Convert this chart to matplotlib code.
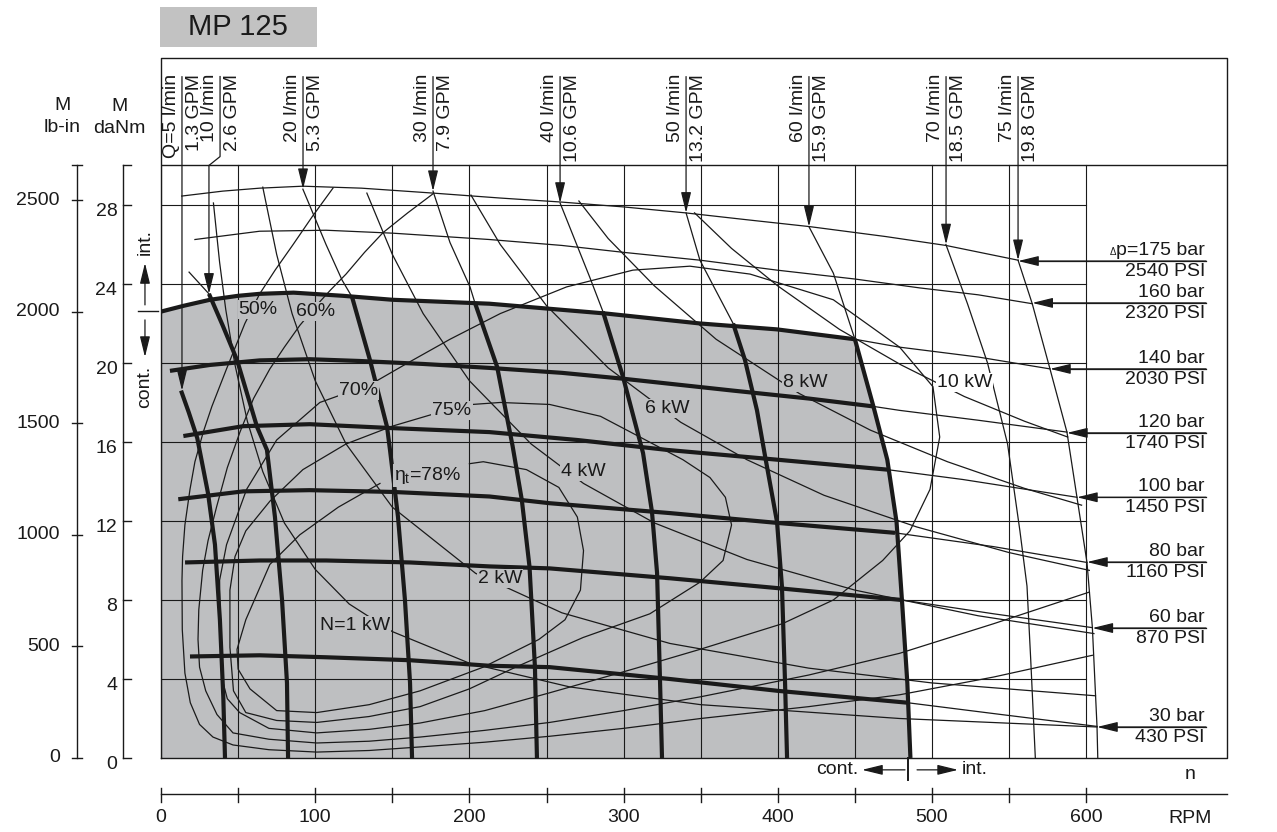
import matplotlib.pyplot as plt
from matplotlib import rcParams

rcParams['font.family'] = ['Liberation Sans', 'DejaVu Sans']
rcParams['mathtext.fontset'] = 'custom'
rcParams['mathtext.rm'] = 'Liberation Sans'
rcParams['mathtext.it'] = 'Liberation Sans'

INK = '#1a1a1a'
SHADE = '#bebfc1'

# ---- pressure lines (n in RPM, M in daNm) ----
p175_n = [13.4, 40, 64, 92, 130, 176.5, 220, 259, 300, 340, 380, 421, 470, 509, 556]
p175_M = [28.45, 28.7, 28.85, 28.95, 28.85, 28.6, 28.35, 28.15, 27.9, 27.6, 27.25, 26.9, 26.4, 25.95, 25.2]
p160_n = [22, 64, 107, 150.5, 213, 260, 300, 350, 399.5, 450, 492, 530, 565]
p160_M = [26.25, 26.67, 26.72, 26.57, 26.25, 25.95, 25.6, 25.2, 24.7, 24.25, 23.8, 23.45, 23.0]
p140_n = [0, 15, 31.8, 50, 64, 86, 118, 150, 213, 289, 349.5, 399.5, 450]
p140_M = [22.6, 22.9, 23.2, 23.4, 23.5, 23.56, 23.4, 23.2, 23.0, 22.5, 22.0, 21.7, 21.2]
p140_tail_n = [450, 479, 530, 576.5]
p140_tail_M = [21.2, 20.8, 20.3, 19.7]
p120_n = [5.8, 31.8, 64, 96.5, 129, 170, 213, 260, 300, 371, 420, 462]
p120_M = [19.6, 19.9, 20.13, 20.19, 20.1, 19.95, 19.75, 19.5, 19.2, 18.6, 18.2, 17.8]
p120_tail_n = [462, 479, 530, 587.5]
p120_tail_M = [17.8, 17.6, 17.1, 16.5]
p100_n = [14.5, 53.3, 96.5, 150.5, 213, 270, 328, 400, 471]
p100_M = [16.3, 16.8, 16.9, 16.7, 16.5, 16.1, 15.6, 15.1, 14.6]
p100_tail_n = [471, 520, 594]
p100_tail_M = [14.6, 14.1, 13.2]
p80_n = [11.2, 53.3, 96.5, 150.5, 213, 252, 330, 400, 476]
p80_M = [13.1, 13.5, 13.56, 13.47, 13.24, 12.9, 12.4, 11.9, 11.4]
p80_tail_n = [476, 540, 600.5]
p80_tail_M = [11.4, 10.7, 9.9]
p60_n = [15.6, 64, 107, 161.5, 213, 252, 330, 400, 480.5]
p60_M = [9.9, 10.0, 10.0, 9.9, 9.7, 9.6, 9.1, 8.6, 8.0]
p60_tail_n = [480.5, 540, 604]
p60_tail_M = [8.0, 7.3, 6.6]
p30_n = [18.8, 64, 107, 161.5, 213, 252, 330, 400, 484]
p30_M = [5.14, 5.2, 5.1, 4.95, 4.67, 4.6, 4.0, 3.4, 2.8]
p30_tail_n = [484, 545, 607]
p30_tail_M = [2.8, 2.2, 1.6]

# ---- flow lines ----
q5_n = [13.0, 18, 23.5, 30.5, 35, 38.2, 40.4, 41.5]
q5_M = [18.6, 17.5, 16.2, 13.4, 10.8, 7.0, 3.1, 0]
q10_thin_n = [18.2, 31.1]
q10_thin_M = [24.6, 23.5]
q10_n = [31.1, 40, 49.3, 62.3, 68.7, 73.9, 78.5, 81.7, 82.4]
q10_M = [23.5, 21.9, 20.15, 16.76, 15.6, 12.2, 8, 3.8, 0]
q20_thin_n = [92, 107, 117.4, 123.9]
q20_thin_M = [28.8, 26.0, 24.2, 23.34]
q20_n = [123.9, 135.5, 146.6, 148.5, 153.7, 158.2, 161.5, 162.8]
q20_M = [23.34, 20.15, 16.76, 15.6, 12.2, 8, 3.8, 0]
q30_thin_n = [176.4, 187.4, 200.4, 203.6]
q30_thin_M = [28.7, 26.1, 23.85, 23.04]
q30_n = [203.6, 218, 228, 234, 239, 242.5, 243.8]
q30_M = [23.04, 19.8, 15.8, 13.06, 9.67, 4.6, 0]
q40_thin_n = [258.8, 278, 286.6]
q40_thin_M = [28.1, 24.35, 22.6]
q40_n = [286.6, 299.6, 312.6, 318.4, 321.7, 323.6, 324.9]
q40_M = [22.6, 19.3, 15.44, 12.46, 9.37, 3.95, 0]
q50_thin_n = [340.5, 349.5, 369, 371]
q50_thin_M = [27.6, 25.2, 22.3, 22.0]
q50_n = [371, 378.7, 386.5, 391.7, 399.5, 402.7, 404.7, 406]
q50_M = [22.0, 20.15, 17.6, 15.3, 11.95, 8.66, 3.8, 0]
q60_thin_n = [420.2, 436, 450]
q60_thin_M = [26.9, 24.55, 21.2]
q60_n = [450, 462, 471, 477, 480.5, 484, 486]
q60_M = [21.2, 17.8, 15.1, 11.95, 8, 3.8, 0]
q70_n = [509, 523, 536, 549, 557, 561.6, 564, 567]
q70_M = [26.0, 23, 20, 15.9, 11.5, 8.7, 5, 0]
q75_n = [555.8, 565, 576.5, 587.5, 594, 600.5, 604, 607, 607.5]
q75_M = [25.2, 23.0, 19.7, 16.5, 13.2, 9.9, 6.6, 1.6, 0]

# ---- power lines ----
kw1_n = [34, 38, 42, 48, 56, 66, 80, 100, 122, 150, 200, 265, 350, 479, 607]
kw1_M = [28.1, 25.1, 22.7, 19.9, 17.05, 14.5, 11.9, 9.55, 7.8, 6.4, 4.8, 3.6, 2.7, 2.0, 1.57]
kw2_n = [66, 75, 85, 100, 120, 150, 204, 260, 330, 420, 500, 606]
kw2_M = [28.9, 25.5, 22.5, 19.1, 15.9, 12.7, 9.35, 7.35, 5.8, 4.55, 3.8, 3.15]
kw4_n = [133.5, 150, 170, 200, 240, 274, 320, 380, 450, 530, 605]
kw4_M = [28.6, 25.5, 22.5, 19.1, 15.9, 13.9, 11.9, 10.05, 8.5, 7.2, 6.3]
kw6_n = [201, 220, 250, 290, 337, 380, 430, 490, 550, 602]
kw6_M = [28.5, 26.0, 22.9, 19.75, 17.0, 15.1, 13.3, 11.7, 10.4, 9.5]
kw8_n = [271, 290, 320, 360, 414, 460, 510, 560, 597]
kw8_M = [28.2, 26.3, 23.9, 21.2, 18.45, 16.6, 15.0, 13.65, 12.8]
kw10_n = [346, 370, 400, 440, 480, 521, 560, 588]
kw10_M = [27.6, 25.8, 23.9, 21.7, 19.9, 18.3, 17.05, 16.25]

# ---- efficiency curves ----
e50_n = [111.6, 98, 85.7, 74, 64, 54.4, 42.5, 33, 27.4, 22, 18.8, 15.5, 14.0, 13.6, 13.8, 15.5, 19, 25,
         33.7, 46.7, 70, 101, 135, 168, 210, 252, 300, 350, 420, 479, 540, 604]
e50_M = [28.86, 27.4, 26.0, 24.7, 23.5, 22.0, 19.7, 17.8, 16.5, 15.0, 13.6, 11.8, 10.2, 9.0, 6.5, 4.3, 2.8, 1.7,
         1.06, 0.66, 0.42, 0.3, 0.38, 0.56, 0.8, 1.1, 1.5, 2.0, 2.6, 3.2, 4.1, 5.2]
e60_n = [176.5, 160, 144, 132, 120, 110, 103, 90, 80, 70.6, 60, 51.2, 43, 36, 30.5, 27, 24.5, 24, 25, 29,
         36.3, 46.7, 70, 101, 135, 168, 210, 252, 300, 350, 420, 479, 540, 602]
e60_M = [28.57, 27.6, 26.6, 25.6, 24.5, 23.7, 23.1, 21.9, 20.8, 19.7, 18.2, 16.5, 14.7, 12.7, 11.0, 9.5, 7.5, 6.0, 4.6, 3.4,
         2.2, 1.27, 0.95, 0.76, 0.85, 1.06, 1.4, 1.8, 2.4, 3.1, 4.2, 5.3, 6.8, 8.4]
e70_n = [128, 140, 160, 187.4, 220, 263, 306, 343, 382, 436, 479, 500.6, 505, 498.7, 485.7, 468, 436, 403,
         349.5, 306, 252, 210, 168, 135, 101, 70, 51, 43, 40, 38.5, 38, 42.5, 55.5, 75, 103, 128]
e70_M = [18.7, 19.1, 20.0, 21.2, 22.5, 23.85, 24.7, 24.9, 24.5, 23.2, 20.8, 18.8, 16.25, 13.6, 11.5, 10.0, 8.0, 6.8,
         5.5, 4.5, 3.3, 2.4, 1.77, 1.45, 1.27, 1.5, 2.3, 3.0, 3.9, 6.0, 9.0, 10.8, 13.6, 16.1, 18.0, 18.7]
e75_n = [188.7, 202, 220, 252, 285, 310.6, 338.5, 356, 366, 370, 364.5, 349.5, 317, 273.7, 230, 200, 168, 135,
         101, 75, 55, 47, 44.7, 44.7, 48, 55, 70.6, 92, 120, 150, 176, 188.7]
e75_M = [17.6, 17.9, 18.0, 17.9, 17.3, 16.25, 15.1, 14.2, 13.2, 11.8, 10.0, 8.9, 7.3, 6.1, 4.6, 3.5, 2.6, 2.1,
         1.8, 1.9, 2.3, 3.4, 5.6, 8.5, 10.2, 11.5, 13.0, 14.6, 15.9, 16.8, 17.4, 17.6]
e78_n = [200, 209, 237, 258, 270, 274, 272, 262, 245, 209, 168, 135, 101, 75, 57.7, 50, 49.3, 55, 70.6, 90, 115, 142]
e78_M = [14.9, 15.0, 14.6, 13.7, 12.2, 10.5, 8.5, 7.0, 6.0, 4.6, 3.4, 2.7, 2.3, 2.4, 3.5, 4.5, 5.5, 7.0, 9.8, 11.3, 12.7, 13.9]

# ---- labels ----
flow_lpm = ['Q=5 l/min', '10 l/min', '20 l/min', '30 l/min', '40 l/min', '50 l/min', '60 l/min', '70 l/min', '75 l/min']
flow_gpm = ['1.3 GPM', '2.6 GPM', '5.3 GPM', '7.9 GPM', '10.6 GPM', '13.2 GPM', '15.9 GPM', '18.5 GPM', '19.8 GPM']
flow_sep_n = [13.6, 38.3, 92.1, 176.4, 258.8, 340.5, 420.2, 509.1, 555.8]
flow_arrow_n = [13.6, 31.1, 92.1, 176.4, 258.8, 340.5, 420.2, 509.1, 555.8]
flow_tip_M = [18.6, 23.5, 28.8, 28.7, 28.1, 27.6, 26.9, 26.0, 25.2]

bar_labels = ['p=175 bar', '160 bar', '140 bar', '120 bar', '100 bar', '80 bar', '60 bar', '30 bar']
psi_labels = ['2540 PSI', '2320 PSI', '2030 PSI', '1740 PSI', '1450 PSI', '1160 PSI', '870 PSI', '430 PSI']
bar_tip_n = [555.8, 565, 576.5, 587.5, 594, 600.5, 604, 607]
bar_M = [25.16, 23.04, 19.7, 16.46, 13.2, 9.92, 6.58, 1.57]

power_labels = ['N=1 kW', '2 kW', '4 kW', '6 kW', '8 kW', '10 kW']
power_pos = [(126, 6.7), (220, 9.1), (273.7, 14.5), (328, 17.7), (418, 19.0), (521, 19.0)]
eff_labels = ['50%', '60%', '70%', '75%', r'$\eta_{\mathrm{t}}$=78%']
eff_pos = [(63, 22.7), (100.5, 22.6), (127.8, 18.6), (188.7, 17.6), (173, 14.3)]

rpm_ticks = list(range(0, 601, 50))
rpm_labels = [0, 100, 200, 300, 400, 500, 600]
danm_ticks = [0, 4, 8, 12, 16, 20, 24, 28]
lbin_ticks = [0, 500, 1000, 1500, 2000, 2500]

NMAX = 691.3
fig = plt.figure(figsize=(12.77, 8.32), dpi=100)
ax = fig.add_axes([161 / 1277, 74 / 832, 1066 / 1277, 700 / 832])
ax.set_xlim(0, NMAX)
ax.set_ylim(0, 35.44)
ax.axis('off')

# shaded continuous region: max line, 60 l/min line, back along n axis
ax.fill(p140_n + q60_n[1:] + [0], p140_M + q60_M[1:] + [0], color=SHADE, lw=0, zorder=1)

# grid
for n in rpm_ticks:
    ax.plot([n, n], [0, 30], color=INK, lw=0.8, zorder=2)
for m in danm_ticks[1:]:
    ax.plot([0, 600], [m, m], color=INK, lw=0.8, zorder=2)

# frame
ax.plot([0, NMAX, NMAX, 0, 0], [0, 0, 35.44, 35.44, 0], color=INK, lw=1.0, zorder=3, clip_on=False)
ax.plot([0, NMAX], [30, 30], color=INK, lw=1.0, zorder=3)


def thin(n, m):
    ax.plot(n, m, color=INK, lw=0.9, zorder=3, solid_joinstyle='round')


def thick(n, m):
    ax.plot(n, m, color=INK, lw=3.0, zorder=4, solid_capstyle='butt', solid_joinstyle='round')


for n, m in [(p175_n, p175_M), (p160_n, p160_M), (p140_tail_n, p140_tail_M), (p120_tail_n, p120_tail_M),
             (p100_tail_n, p100_tail_M), (p80_tail_n, p80_tail_M), (p60_tail_n, p60_tail_M), (p30_tail_n, p30_tail_M),
             (q10_thin_n, q10_thin_M), (q20_thin_n, q20_thin_M), (q30_thin_n, q30_thin_M), (q40_thin_n, q40_thin_M),
             (q50_thin_n, q50_thin_M), (q60_thin_n, q60_thin_M), (q70_n, q70_M), (q75_n, q75_M),
             (kw1_n, kw1_M), (kw2_n, kw2_M), (kw4_n, kw4_M), (kw6_n, kw6_M), (kw8_n, kw8_M), (kw10_n, kw10_M),
             (e50_n, e50_M), (e60_n, e60_M), (e70_n, e70_M), (e75_n, e75_M), (e78_n, e78_M)]:
    thin(n, m)

for n, m in [(p140_n, p140_M), (p120_n, p120_M), (p100_n, p100_M), (p80_n, p80_M), (p60_n, p60_M), (p30_n, p30_M),
             (q5_n, q5_M), (q10_n, q10_M), (q20_n, q20_M), (q30_n, q30_M), (q40_n, q40_M), (q50_n, q50_M),
             (q60_n, q60_M)]:
    thick(n, m)

AP = dict(arrowstyle='-|>,head_length=0.9,head_width=0.22', mutation_scale=14,
          lw=0.9, color=INK, shrinkA=0, shrinkB=0)


def arrow(x0, y0, x1, y1):
    ax.annotate('', xy=(x1, y1), xytext=(x0, y0), arrowprops=AP, annotation_clip=False, zorder=5)


# flow labels in header
for i in range(len(flow_lpm)):
    xs = flow_sep_n[i]
    ax.annotate(flow_lpm[i], xy=(xs, 34.63), xytext=(-1.5, 0), textcoords='offset points',
                rotation=90, ha='right', va='top', fontsize=14, color=INK)
    ax.annotate(flow_gpm[i], xy=(xs, 34.63), xytext=(3, 0), textcoords='offset points',
                rotation=90, ha='left', va='top', fontsize=14, color=INK)
    if flow_arrow_n[i] == xs:
        arrow(xs, 34.5, xs, flow_tip_M[i])
    else:
        ax.plot([xs, xs, flow_arrow_n[i]], [34.5, 30.45, 30.0], color=INK, lw=0.9)
        arrow(flow_arrow_n[i], 30.0, flow_arrow_n[i], flow_tip_M[i])

# pressure labels at right
for i in range(len(bar_labels)):
    arrow(677.7, bar_M[i], bar_tip_n[i], bar_M[i])
    ax.plot([bar_tip_n[i] + 5, 677.7], [bar_M[i]] * 2, color=INK, lw=0.9)
    ax.text(677, bar_M[i] + 0.12, bar_labels[i], ha='right', va='bottom', fontsize=14, color=INK)
    ax.text(677, bar_M[i] - 0.1, psi_labels[i], ha='right', va='top', fontsize=14, color=INK)
ax.text(617.5, bar_M[0] + 0.22, '\u0394', ha='center', va='bottom', fontsize=7, color=INK)

for s, (x, y) in zip(power_labels, power_pos):
    bg = 'white' if x > 500 else SHADE
    ax.text(x, y, s, ha='center', va='center', fontsize=14, color=INK, zorder=6,
            bbox=dict(boxstyle='square,pad=0.05', fc=bg, ec='none'))
for s, (x, y) in zip(eff_labels, eff_pos):
    ax.text(x, y, s, ha='center', va='center', fontsize=14, color=INK, zorder=6,
            bbox=dict(boxstyle='square,pad=0.05', fc=SHADE, ec='none'))

# left axes (lb-in and daNm)
ax.plot([-54.5, -54.5], [0, 30], color=INK, lw=1.0, clip_on=False)
for v in lbin_ticks:
    m = v * 0.0112985
    ax.plot([-57.7, -51.2], [m, m], color=INK, lw=1.0, clip_on=False)
    ax.text(-65.5, m, str(v), ha='right', va='center', fontsize=14, color=INK)
ax.plot([-57.7, -51.2], [30, 30], color=INK, lw=1.0, clip_on=False)
ax.plot([-24.6, -24.6], [0, 30], color=INK, lw=1.0, clip_on=False)
for m in danm_ticks + [30]:
    ax.plot([-24.6, -19.5], [m, m], color=INK, lw=1.0, clip_on=False)
for m in danm_ticks:
    ax.text(-28.3, m - 0.35, str(m), ha='right', va='center', fontsize=14, color=INK)
ax.text(-64.2, 33.06, 'M', ha='center', va='center', fontsize=14, color=INK)
ax.text(-64.2, 31.9, 'lb-in', ha='center', va='center', fontsize=14, color=INK)
ax.text(-27.2, 33.0, 'M', ha='center', va='center', fontsize=14, color=INK)
ax.text(-27.2, 31.85, 'daNm', ha='center', va='center', fontsize=14, color=INK)

# int. / cont. marks on the left
ax.plot([-14.9, -1.9], [22.63, 22.63], color=INK, lw=1.0, clip_on=False)
arrow(-10.4, 22.94, -10.4, 25.06)
ax.text(-10.4, 26.1, 'int.', rotation=90, ha='center', va='center', fontsize=14, color=INK)
arrow(-10.4, 22.18, -10.4, 20.3)
ax.text(-10.4, 18.8, 'cont.', rotation=90, ha='center', va='center', fontsize=14, color=INK)

# bottom RPM axis
ax.plot([0, NMAX], [-1.82, -1.82], color=INK, lw=1.0, clip_on=False)
for n in rpm_ticks:
    ax.plot([n, n], [-1.52, -2.23], color=INK, lw=1.0, clip_on=False)
for v in rpm_labels:
    ax.text(v, -3.0, str(v), ha='center', va='center', fontsize=14, color=INK)
ax.text(667.3, -3.04, 'RPM', ha='center', va='center', fontsize=14, color=INK)
ax.text(667.3, -0.86, 'n', ha='center', va='center', fontsize=14, color=INK)

# cont./int. marks at the bottom
ax.plot([484.4, 484.4], [0, -1.11], color=INK, lw=1.4, clip_on=False)
arrow(482.5, -0.6, 454.6, -0.6)
ax.text(452, -0.6, 'cont.', ha='right', va='center', fontsize=14, color=INK)
arrow(490.3, -0.6, 516.9, -0.6)
ax.text(519.5, -0.6, 'int.', ha='left', va='center', fontsize=14, color=INK)

# title box
ax.add_patch(plt.Rectangle((-0.65, 36.0), 101.85, 2.03, facecolor='#c2c2c2', edgecolor='none', clip_on=False))
ax.text(50, 37.0, 'MP 125', ha='center', va='center', fontsize=21, color=INK)

fig.savefig('out.png', dpi=100)
